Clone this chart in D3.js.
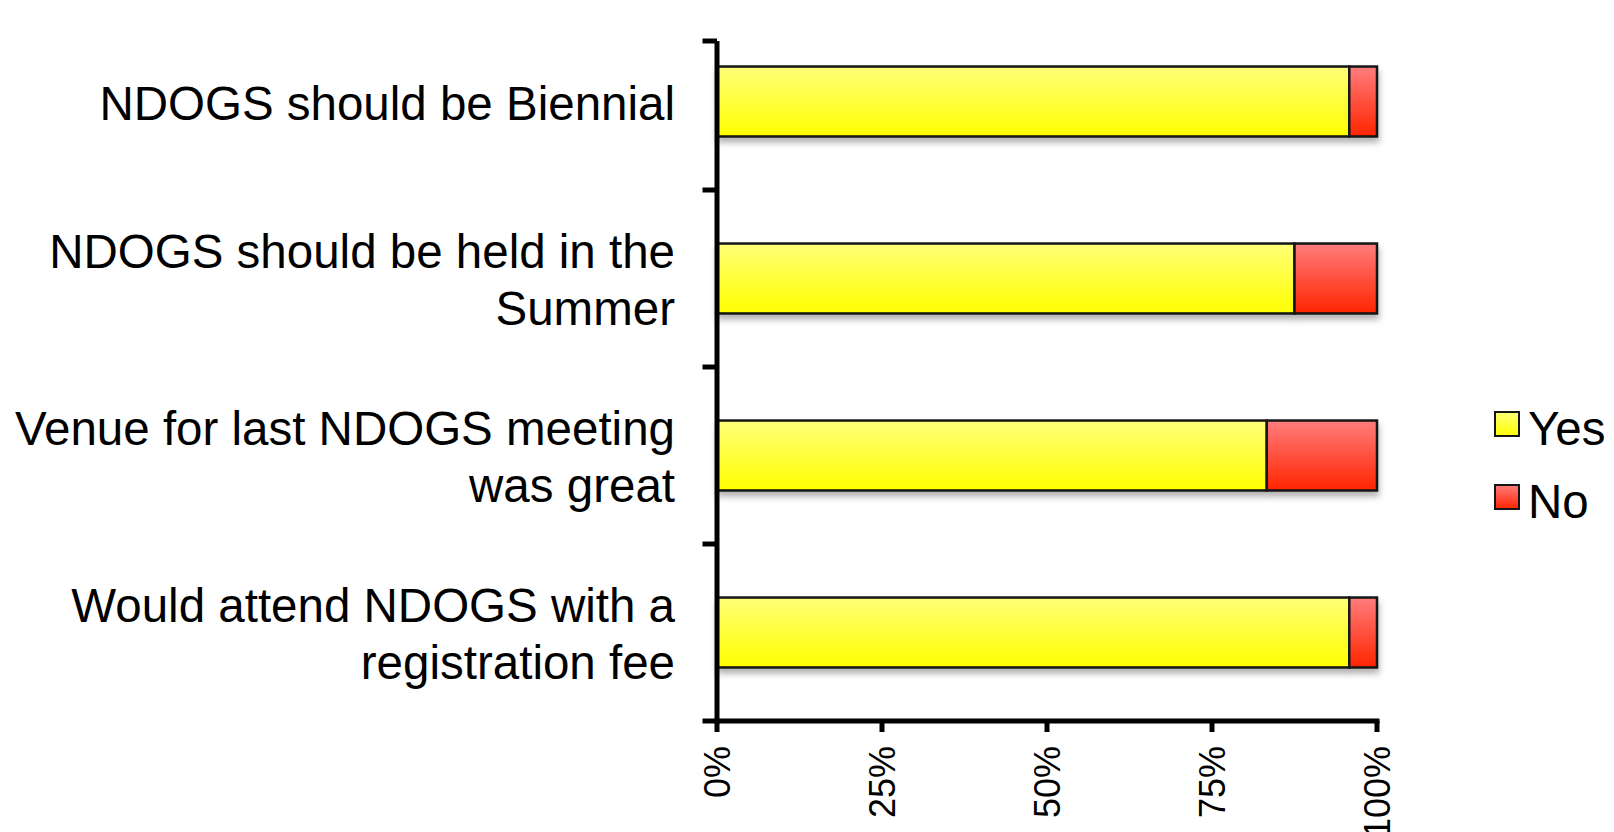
<!DOCTYPE html>
<html>
<head>
<meta charset="utf-8">
<script src="https://cdn.jsdelivr.net/npm/d3@7"></script>
<style>
  html, body { margin: 0; padding: 0; background: #ffffff; }
  svg { display: block; font-family: "Liberation Sans", Arial, Helvetica, sans-serif; }
</style>
</head>
<body>
<svg id="chart" width="1614" height="832"></svg>
<script>
// ---- data ----
const categories = [
  "NDOGS should be Biennial",
  "NDOGS should be held in the\nSummer",
  "Venue for last NDOGS meeting\nwas great",
  "Would attend NDOGS with a\nregistration fee"
];
const seriesNames = ["Yes", "No"];
const yesValues = [95.8, 87.5, 83.3, 95.8];
const noValues = [4.2, 12.5, 16.7, 4.2];
const tickValues = [0, 25, 50, 75, 100];
const tickLabels = ["0%", "25%", "50%", "75%", "100%"];

// ---- layout ----
const svg = d3.select("#chart");
const x = d3.scaleLinear().domain([0, 100]).range([717, 1377]);
const y = d3.scaleBand().domain(categories).range([13, 721])
  .paddingInner(0.605).paddingOuter(0.3025);
const axisTop = 41;

const defs = svg.append("defs");
function grad(id, top, bottom) {
  const g = defs.append("linearGradient").attr("id", id)
    .attr("x1", 0).attr("y1", 0).attr("x2", 0).attr("y2", 1);
  g.append("stop").attr("offset", "0%").attr("stop-color", top);
  g.append("stop").attr("offset", "100%").attr("stop-color", bottom);
}
grad("gYes", "#ffff78", "#ffff00");
grad("gNo", "#ff7d7d", "#ff2400");
const f = defs.append("filter").attr("id", "shadow")
  .attr("x", "-5%").attr("y", "-20%").attr("width", "110%").attr("height", "150%");
f.append("feDropShadow").attr("dx", 1).attr("dy", 5).attr("stdDeviation", 3)
  .attr("flood-color", "#000").attr("flood-opacity", 0.3);

const fills = { Yes: "url(#gYes)", No: "url(#gNo)" };

// ---- stacked bars ----
const stackData = categories.map((c, i) => ({ cat: c, Yes: yesValues[i], No: noValues[i] }));
const stack = d3.stack().keys(seriesNames)(stackData);

const rows = svg.append("g").selectAll("g.row")
  .data(categories).join("g").attr("class", "row")
  .attr("filter", "url(#shadow)");

rows.each(function (c, i) {
  const g = d3.select(this);
  stack.forEach(s => {
    const d = s[i];
    g.append("rect")
      .attr("x", x(d[0]))
      .attr("y", y(c))
      .attr("width", x(d[1]) - x(d[0]))
      .attr("height", y.bandwidth())
      .attr("fill", fills[s.key])
      .attr("stroke", "#151515")
      .attr("stroke-width", 2.5);
  });
});

// ---- y axis ----
const axisG = svg.append("g").attr("stroke", "#000").attr("stroke-linecap", "butt");
axisG.append("line")
  .attr("x1", x(0)).attr("x2", x(0))
  .attr("y1", axisTop).attr("y2", y.range()[1] + 3)
  .attr("stroke-width", 5);
const yTickPos = [axisTop].concat(categories.map(c => y(c) - y.step() * y.paddingInner() / 2 + y.step()));
yTickPos.forEach(p => {
  axisG.append("line")
    .attr("x1", x(0) - 14.5).attr("x2", x(0))
    .attr("y1", p).attr("y2", p)
    .attr("stroke-width", 5);
});

// ---- x axis ----
const xAxisY = y.range()[1];
axisG.append("line")
  .attr("x1", x(0) - 2.5).attr("x2", x(100) + 2.5)
  .attr("y1", xAxisY).attr("y2", xAxisY)
  .attr("stroke-width", 5);
tickValues.forEach(v => {
  axisG.append("line")
    .attr("x1", x(v)).attr("x2", x(v))
    .attr("y1", xAxisY).attr("y2", xAxisY + 11)
    .attr("stroke-width", 5);
});
svg.append("g").selectAll("text")
  .data(tickValues).join("text")
  .attr("transform", v => `translate(${x(v)},746) rotate(-90)`)
  .attr("text-anchor", "end")
  .attr("dy", "0.35em")
  .attr("font-size", 36)
  .attr("fill", "#000")
  .text((v, i) => tickLabels[i]);

// ---- category labels ----
const lineH = 56.6;
svg.append("g").selectAll("text")
  .data(categories).join("text")
  .attr("text-anchor", "end")
  .attr("font-size", 47.5)
  .attr("fill", "#000")
  .each(function (c) {
    const lines = c.split("\n");
    const cy = y(c) + y.bandwidth() / 2;
    const t = d3.select(this);
    lines.forEach((ln, k) => {
      t.append("tspan")
        .attr("x", 675)
        .attr("y", cy + 1.5 + (k - (lines.length - 1) / 2) * lineH)
        .attr("dy", "0.35em")
        .text(ln);
    });
  });

// ---- legend ----
const legendY = [424, 497];
const lg = svg.append("g").selectAll("g")
  .data(seriesNames).join("g")
  .attr("transform", (d, i) => `translate(1495,${legendY[i]})`);
lg.append("rect")
  .attr("x", 0).attr("y", -12).attr("width", 24).attr("height", 24)
  .attr("fill", d => fills[d]).attr("stroke", "#151515").attr("stroke-width", 2);
lg.append("text")
  .attr("x", 33).attr("y", 4).attr("dy", "0.35em")
  .attr("font-size", 47.5).attr("fill", "#000")
  .text(d => d);
</script>
</body>
</html>
